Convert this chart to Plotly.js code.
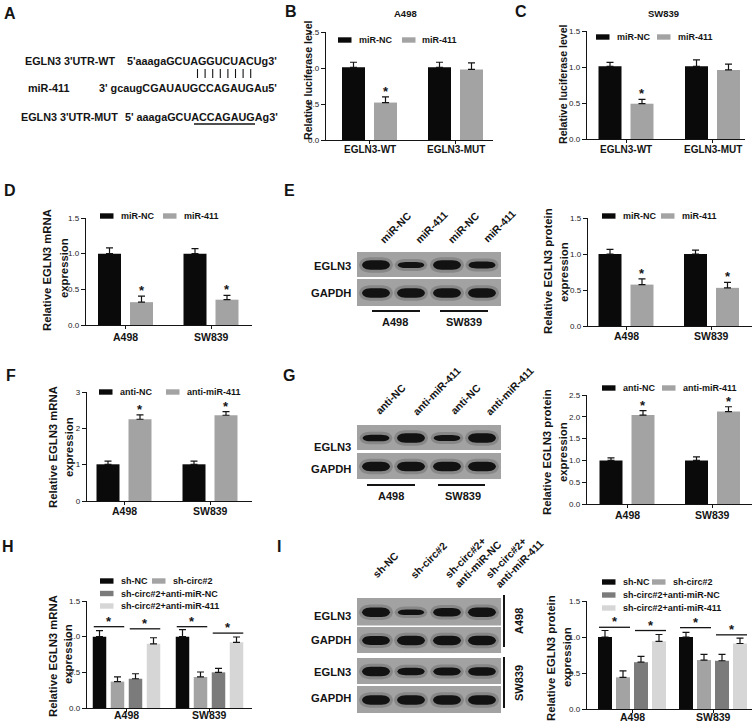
<!DOCTYPE html>
<html>
<head>
<meta charset="utf-8">
<script src="https://cdn.plot.ly/plotly-3.0.1.min.js"></script>
<style>html,body{margin:0;padding:0;background:#fff;}#fig{width:753px;height:724px;}</style>
</head>
<body>
<div id="fig"></div>
<script>
// ======================= DATA =======================
const lucCategories = ['EGLN3-WT', 'EGLN3-MUT'];
const cellLines = ['A498', 'SW839'];
const miRSeries = ['miR-NC', 'miR-411'];
const antiSeries = ['anti-NC', 'anti-miR-411'];
const rescueSeries = ['sh-NC', 'sh-circ#2', 'sh-circ#2+anti-miR-NC', 'sh-circ#2+anti-miR-411'];

// Panel A sequences
const seqLabels = ["EGLN3 3'UTR-WT", 'miR-411', "EGLN3 3'UTR-MUT"];
const seqTexts = ["5'aaagaGCUAGGUCUACUg3'", "3' gcaugCGAUAUGCCAGAUGAu5'", "5' aaagaGCUACCAGAUGAg3'"];
const pairedBases = 8;

// Panel B: luciferase, A498
const lucA498_miRNC = [1.01, 1.01];
const lucA498_miRNC_err = [0.07, 0.07];
const lucA498_miR411 = [0.52, 0.98];
const lucA498_miR411_err = [0.08, 0.09];
// Panel C: luciferase, SW839
const lucSW839_miRNC = [1.01, 1.01];
const lucSW839_miRNC_err = [0.055, 0.09];
const lucSW839_miR411 = [0.49, 0.96];
const lucSW839_miR411_err = [0.06, 0.08];
// Panel D: mRNA after miR-411
const mrna_miRNC = [1.00, 1.00];
const mrna_miRNC_err = [0.08, 0.07];
const mrna_miR411 = [0.32, 0.355];
const mrna_miR411_err = [0.085, 0.06];
// Panel E: protein after miR-411
const prot_miRNC = [1.00, 1.00];
const prot_miRNC_err = [0.065, 0.055];
const prot_miR411 = [0.575, 0.53];
const prot_miR411_err = [0.08, 0.075];
// Panel F: mRNA after anti-miR-411
const mrna_antiNC = [1.01, 1.01];
const mrna_antiNC_err = [0.09, 0.09];
const mrna_anti411 = [2.25, 2.36];
const mrna_anti411_err = [0.12, 0.10];
// Panel G: protein after anti-miR-411
const prot_antiNC = [1.00, 1.00];
const prot_antiNC_err = [0.06, 0.08];
const prot_anti411 = [2.04, 2.12];
const prot_anti411_err = [0.10, 0.11];
// Panel H: mRNA rescue (A498, SW839)
const mrnaR_shNC = [1.00, 1.00];
const mrnaR_shNC_err = [0.085, 0.10];
const mrnaR_shCirc = [0.37, 0.435];
const mrnaR_shCirc_err = [0.065, 0.07];
const mrnaR_antiNC = [0.41, 0.50];
const mrnaR_antiNC_err = [0.07, 0.055];
const mrnaR_anti411 = [0.90, 0.92];
const mrnaR_anti411_err = [0.085, 0.075];
const mrnaR_sigY = [[1.14, 1.11], [1.14, 1.05]];
// Panel I: protein rescue (A498, SW839)
const protR_shNC = [1.00, 1.00];
const protR_shNC_err = [0.09, 0.065];
const protR_shCirc = [0.44, 0.68];
const protR_shCirc_err = [0.09, 0.08];
const protR_antiNC = [0.65, 0.67];
const protR_antiNC_err = [0.08, 0.09];
const protR_anti411 = [0.94, 0.91];
const protR_anti411_err = [0.095, 0.075];
const protR_sigY = [[1.135, 1.09], [1.13, 1.03]];

// Western blot band strengths (relative)
const blotE_lanes = ['miR-NC', 'miR-411', 'miR-NC', 'miR-411'];
const blotE_EGLN3 = [1.0, 0.65, 1.0, 0.75];
const blotE_GAPDH = [1.0, 1.0, 1.0, 1.0];
const blotG_lanes = ['anti-NC', 'anti-miR-411', 'anti-NC', 'anti-miR-411'];
const blotG_EGLN3 = [0.7, 1.0, 0.65, 1.0];
const blotG_GAPDH = [1.0, 1.0, 1.0, 1.0];
const blotI_lanes = ['sh-NC', 'sh-circ#2', 'sh-circ#2+<br>anti-miR-NC', 'sh-circ#2+<br>anti-miR-411'];
const blotI_A498_EGLN3 = [1.0, 0.6, 0.9, 1.0];
const blotI_A498_GAPDH = [0.95, 1.0, 1.0, 1.0];
const blotI_SW839_EGLN3 = [1.0, 0.8, 0.85, 0.9];
const blotI_SW839_GAPDH = [1.0, 1.0, 1.0, 1.0];

// ======================= STYLE / HELPERS =======================
const W = 753, H = 724;
const PX = x => x / W, PY = y => 1 - y / H;
const FONT = '"Liberation Sans", Arial, sans-serif';
const INK = '#141414';
const C_BLACK = '#0a0a0a', C_GRAY = '#a3a3a3', C_DGRAY = '#7b7b7b', C_LIGHT = '#d6d6d6';

const traces = [], shapes = [], annotations = [];
const layout = {
  width: W, height: H, margin: {l: 0, r: 0, t: 0, b: 0, pad: 0},
  paper_bgcolor: '#fff', plot_bgcolor: 'rgba(0,0,0,0)',
  showlegend: false, barmode: 'overlay', font: {family: FONT, color: INK}
};

function text(x, y, t, size, opts) {
  opts = opts || {};
  annotations.push({
    x: PX(x), y: PY(y), xref: 'paper', yref: 'paper', text: t, showarrow: false,
    xanchor: opts.xanchor || 'center', yanchor: opts.yanchor || 'middle',
    textangle: opts.angle || 0, align: opts.align || 'center',
    font: {family: FONT, size: size, color: opts.color || INK, weight: opts.weight || 'bold'}
  });
}
function line(x0, y0, x1, y1, w) {
  shapes.push({type: 'line', xref: 'paper', yref: 'paper', x0: PX(x0), y0: PY(y0), x1: PX(x1), y1: PY(y1),
    line: {color: INK, width: w || 1.5}});
}
function rect(x0, y0, x1, y1, color, opacity) {
  shapes.push({type: 'rect', xref: 'paper', yref: 'paper', x0: PX(x0), y0: PY(y0), x1: PX(x1), y1: PY(y1),
    fillcolor: color, opacity: opacity == null ? 1 : opacity, line: {width: 0}, layer: 'above'});
}

function addBarChart(n, cfg) {
  const sfx = n === 1 ? '' : String(n);
  const xr = 'x' + sfx, yr = 'y' + sfx;
  const g = cfg.geom;
  layout['xaxis' + sfx] = {
    domain: [PX(g.left), PX(g.right)], range: [(g.left - g.c0) / g.sp, (g.right - g.c0) / g.sp],
    anchor: yr, tickvals: cfg.cats.map((c, i) => i), showticklabels: false,
    ticks: 'outside', ticklen: 3, tickwidth: 1, tickcolor: INK,
    showline: true, linecolor: INK, linewidth: 1.3, showgrid: false, zeroline: false, fixedrange: true
  };
  layout['yaxis' + sfx] = {
    domain: [PY(g.bottom), PY(g.top)], range: [0, cfg.ymax], dtick: cfg.dtick, tick0: 0,
    tickformat: cfg.fmt, anchor: xr,
    ticks: 'outside', ticklen: 4, tickwidth: 1, tickcolor: INK,
    showline: true, linecolor: INK, linewidth: 1.3, showgrid: false, zeroline: false, fixedrange: true,
    tickfont: {family: FONT, size: 8, color: '#222'}
  };
  cfg.cats.forEach((c, i) => {
    annotations.push({x: i, y: PY(cfg.catY), xref: xr, yref: 'paper', text: c, showarrow: false,
      xanchor: 'center', yanchor: 'middle',
      font: {family: FONT, size: cfg.catSize, weight: 'bold', color: INK}});
  });
  const ns = cfg.series.length;
  const total = ns * g.barW + (ns - 1) * g.gapW;
  const barLeft = k => -total / 2 + k * (g.barW + g.gapW); // px relative to category centre
  cfg.series.forEach((s, k) => {
    traces.push({
      type: 'bar', x: cfg.cats.map((c, i) => i), y: s.y, xaxis: xr, yaxis: yr,
      offset: barLeft(k) / g.sp, width: g.barW / g.sp, name: s.name,
      marker: {color: s.color, line: {width: 0}},
      error_y: {type: 'data', array: s.err, arrayminus: s.err.map(() => 0), symmetric: false,
        color: INK, thickness: 1.2, width: 3.5},
      hoverinfo: 'skip', cliponaxis: false
    });
    if (s.stars) s.stars.forEach((on, i) => {
      if (!on) return;
      annotations.push({x: i + (barLeft(k) + g.barW / 2) / g.sp, y: s.y[i] + s.err[i], xref: xr, yref: yr,
        text: '*', showarrow: false, xanchor: 'center', yanchor: 'bottom', yshift: -4,
        font: {family: FONT, size: 13, weight: 'bold', color: INK}});
    });
  });
  if (cfg.sig) {
    cfg.sig.y.forEach((pairYs, i) => {
      cfg.sig.pairs.forEach((pr, j) => {
        const x0 = i + (barLeft(pr[0]) + 1) / g.sp;
        const x1 = i + (barLeft(pr[1]) + g.barW) / g.sp;
        shapes.push({type: 'line', xref: xr, yref: yr, x0: x0, x1: x1, y0: pairYs[j], y1: pairYs[j],
          line: {color: INK, width: 1.3}});
        annotations.push({x: (x0 + x1) / 2, y: pairYs[j], xref: xr, yref: yr, text: '*', showarrow: false,
          xanchor: 'center', yanchor: 'bottom', yshift: -4,
          font: {family: FONT, size: 13, weight: 'bold', color: INK}});
      });
    });
  }
  const L = cfg.legend;
  cfg.series.forEach((s, k) => {
    const pos = L.layout[k];
    const x = L.x0 + pos[0] * L.colOff, y = L.y0 + pos[1] * (L.rowStep || 0);
    rect(x, y - 2.7, x + 13.5, y + 2.7, s.color);
    text(x + 18.5, y, s.name, 9, {xanchor: 'left'});
  });
  cfg.ytitle.forEach(t => text(t.x, t.y, t.text, t.size, {angle: -90}));
  if (cfg.title) text(cfg.title.x, cfg.title.y, cfg.title.text, 9.5);
}

function bandPath(xc, yc, w, h) {
  const x0 = xc - w / 2, x1 = xc + w / 2, yt = yc - h / 2, yb = yc + h / 2;
  const P = (x, y) => PX(x).toFixed(5) + ',' + PY(y).toFixed(5);
  return 'M' + P(x0, yc) +
    ' C' + P(x0 + 0.04 * w, yt) + ' ' + P(x0 + 0.22 * w, yt) + ' ' + P(xc, yt) +
    ' C' + P(x1 - 0.22 * w, yt) + ' ' + P(x1 - 0.04 * w, yt) + ' ' + P(x1, yc) +
    ' C' + P(x1 - 0.04 * w, yb) + ' ' + P(x1 - 0.22 * w, yb) + ' ' + P(xc, yb) +
    ' C' + P(x0 + 0.22 * w, yb) + ' ' + P(x0 + 0.04 * w, yb) + ' ' + P(x0, yc) + ' Z';
}

function drawBlotRow(left, right, top, bottom, lanes, strengths) {
  rect(left, top, right, bottom, '#a2a2a2');
  const yc = (top + bottom) / 2 + 0.5;
  lanes.forEach((xc, i) => {
    const t = strengths[i];
    const w = 28 * (0.88 + 0.12 * t), h = 9.5 * t;
    shapes.push({type: 'path', xref: 'paper', yref: 'paper', path: bandPath(xc, yc, w + 6, h + 6),
      fillcolor: '#4a4a4a', opacity: 0.3, line: {width: 0}});
    shapes.push({type: 'path', xref: 'paper', yref: 'paper', path: bandPath(xc, yc, w, h),
      fillcolor: '#121212', line: {width: 0}});
  });
}

// ======================= PANEL LETTERS =======================
[['A', 10, 13], ['B', 291, 12], ['C', 521, 12], ['D', 10, 190], ['E', 289, 190],
 ['F', 11, 375], ['G', 289, 375], ['H', 8, 546], ['I', 279, 546]].forEach(l => text(l[1], l[2], l[0], 16));

// ======================= PANEL A =======================
text(23, 61, seqLabels[0], 10.8, {xanchor: 'left'});
text(125, 61, seqTexts[0], 10.8, {xanchor: 'left'});
text(26, 88, seqLabels[1], 10.8, {xanchor: 'left'});
text(97, 88, seqTexts[1], 10.8, {xanchor: 'left'});
text(19, 117, seqLabels[2], 10.8, {xanchor: 'left'});
text(123, 117, seqTexts[2], 10.8, {xanchor: 'left'});
for (let i = 0; i < pairedBases; i++) line(197.5 + i * 7.6, 69, 197.5 + i * 7.6, 78, 1.1);
line(194, 124, 255, 124, 1.6);

// ======================= PANEL B & C =======================
const geom2 = (left, right, top, bottom, c0, sp) => ({left, right, top, bottom, c0, sp, barW: 23, gapW: 9});
addBarChart(1, {
  geom: geom2(326, 493, 32, 140, 369.5, 86), ymax: 1.5, dtick: 0.5, fmt: '.1f',
  cats: lucCategories, catSize: 10, catY: 150,
  series: [
    {name: miRSeries[0], color: C_BLACK, y: lucA498_miRNC, err: lucA498_miRNC_err},
    {name: miRSeries[1], color: C_GRAY, y: lucA498_miR411, err: lucA498_miR411_err, stars: [true, false]}],
  legend: {x0: 338, y0: 40, colOff: 64, layout: [[0, 0], [1, 0]]},
  ytitle: [{text: 'Relative luciferase level', x: 308, y: 80, size: 10.6}],
  title: {text: 'A498', x: 405, y: 13}
});
addBarChart(2, {
  geom: geom2(587, 745, 31, 139, 626, 86.5), ymax: 1.5, dtick: 0.5, fmt: '.1f',
  cats: lucCategories, catSize: 10, catY: 149.5,
  series: [
    {name: miRSeries[0], color: C_BLACK, y: lucSW839_miRNC, err: lucSW839_miRNC_err},
    {name: miRSeries[1], color: C_GRAY, y: lucSW839_miR411, err: lucSW839_miR411_err, stars: [true, false]}],
  legend: {x0: 596, y0: 37, colOff: 61, layout: [[0, 0], [1, 0]]},
  ytitle: [{text: 'Relative luciferase level', x: 563, y: 84, size: 10.6}],
  title: {text: 'SW839', x: 663, y: 13}
});

// ======================= PANEL D & E =======================
addBarChart(3, {
  geom: geom2(86, 252, 218, 325, 125.5, 85.5), ymax: 1.5, dtick: 0.5, fmt: '.1f',
  cats: cellLines, catSize: 10.5, catY: 337.5,
  series: [
    {name: miRSeries[0], color: C_BLACK, y: mrna_miRNC, err: mrna_miRNC_err},
    {name: miRSeries[1], color: C_GRAY, y: mrna_miR411, err: mrna_miR411_err, stars: [true, true]}],
  legend: {x0: 100, y0: 216, colOff: 63, layout: [[0, 0], [1, 0]]},
  ytitle: [{text: 'Relative EGLN3 mRNA', x: 47, y: 270, size: 11.3}, {text: 'expression', x: 64, y: 268, size: 11.3}]
});
addBarChart(4, {
  geom: geom2(588, 752, 218, 326, 626, 85.5), ymax: 1.5, dtick: 0.5, fmt: '.1f',
  cats: cellLines, catSize: 10.5, catY: 335.5,
  series: [
    {name: miRSeries[0], color: C_BLACK, y: prot_miRNC, err: prot_miRNC_err},
    {name: miRSeries[1], color: C_GRAY, y: prot_miR411, err: prot_miR411_err, stars: [true, true]}],
  legend: {x0: 602, y0: 216, colOff: 59, layout: [[0, 0], [1, 0]]},
  ytitle: [{text: 'Relative EGLN3 protein', x: 548, y: 271, size: 11.3}, {text: 'expression', x: 564, y: 272, size: 11.3}]
});

// ======================= PANEL F & G =======================
addBarChart(5, {
  geom: geom2(87, 252, 392, 501, 124, 86), ymax: 3, dtick: 1, fmt: 'd',
  cats: cellLines, catSize: 10.5, catY: 510.5,
  series: [
    {name: antiSeries[0], color: C_BLACK, y: mrna_antiNC, err: mrna_antiNC_err},
    {name: antiSeries[1], color: C_GRAY, y: mrna_anti411, err: mrna_anti411_err, stars: [true, true]}],
  legend: {x0: 99, y0: 392, colOff: 67, layout: [[0, 0], [1, 0]]},
  ytitle: [{text: 'Relative EGLN3 mRNA', x: 53, y: 447, size: 11.3}, {text: 'expression', x: 69, y: 447, size: 11.3}]
});
addBarChart(6, {
  geom: geom2(587, 752, 395, 504, 627, 85.5), ymax: 2.5, dtick: 0.5, fmt: '.1f',
  cats: cellLines, catSize: 10.5, catY: 514.5,
  series: [
    {name: antiSeries[0], color: C_BLACK, y: prot_antiNC, err: prot_antiNC_err},
    {name: antiSeries[1], color: C_GRAY, y: prot_anti411, err: prot_anti411_err, stars: [true, true]}],
  legend: {x0: 602, y0: 388, colOff: 60, layout: [[0, 0], [1, 0]]},
  ytitle: [{text: 'Relative EGLN3 protein', x: 547, y: 452, size: 11.3}, {text: 'expression', x: 563, y: 452, size: 11.3}]
});

// ======================= PANEL H & I =======================
const leg4 = [[0, 0], [1, 0], [0, 1], [0, 2]];
addBarChart(7, {
  geom: {left: 87, right: 252, top: 601, bottom: 708, c0: 126.5, sp: 83, barW: 13.5, gapW: 4.5},
  ymax: 1.5, dtick: 0.5, fmt: '.1f', cats: cellLines, catSize: 10.5, catY: 715,
  series: [
    {name: rescueSeries[0], color: C_BLACK, y: mrnaR_shNC, err: mrnaR_shNC_err},
    {name: rescueSeries[1], color: C_GRAY, y: mrnaR_shCirc, err: mrnaR_shCirc_err},
    {name: rescueSeries[2], color: C_DGRAY, y: mrnaR_antiNC, err: mrnaR_antiNC_err},
    {name: rescueSeries[3], color: C_LIGHT, y: mrnaR_anti411, err: mrnaR_anti411_err}],
  sig: {y: mrnaR_sigY, pairs: [[0, 1], [2, 3]]},
  legend: {x0: 100, y0: 581, colOff: 52, rowStep: 12.5, layout: leg4},
  ytitle: [{text: 'Relative EGLN3 mRNA', x: 53, y: 656, size: 11.3}, {text: 'expression', x: 68, y: 654, size: 11.3}]
});
addBarChart(8, {
  geom: {left: 587, right: 752, top: 601, bottom: 709, c0: 632, sp: 81, barW: 14, gapW: 4},
  ymax: 1.5, dtick: 0.5, fmt: '.1f', cats: cellLines, catSize: 10.5, catY: 716.5,
  series: [
    {name: rescueSeries[0], color: C_BLACK, y: protR_shNC, err: protR_shNC_err},
    {name: rescueSeries[1], color: C_GRAY, y: protR_shCirc, err: protR_shCirc_err},
    {name: rescueSeries[2], color: C_DGRAY, y: protR_antiNC, err: protR_antiNC_err},
    {name: rescueSeries[3], color: C_LIGHT, y: protR_anti411, err: protR_anti411_err}],
  sig: {y: protR_sigY, pairs: [[0, 1], [2, 3]]},
  legend: {x0: 602, y0: 582, colOff: 50, rowStep: 13, layout: leg4},
  ytitle: [{text: 'Relative EGLN3 protein', x: 551, y: 658, size: 11.3}, {text: 'expression', x: 567, y: 657, size: 11.3}]
});

// ======================= BLOTS =======================
const laneX = [376, 411, 447, 482];
const blotL = 357, blotR = 501;
// E
drawBlotRow(blotL, blotR, 252, 277, laneX, blotE_EGLN3);
drawBlotRow(blotL, blotR, 279, 306, laneX, blotE_GAPDH);
text(353, 266, 'EGLN3', 11.2, {xanchor: 'right'});
text(353, 293, 'GAPDH', 11.2, {xanchor: 'right'});
[[375, 248], [410, 248], [443, 248], [478, 247]].forEach((p, i) =>
  text(p[0], p[1], blotE_lanes[i], 10.5, {angle: -45, xanchor: 'left', yanchor: 'bottom'}));
line(372, 311, 420, 311, 2); line(440, 311, 488, 311, 2);
text(395, 322, cellLines[0], 11); text(464, 322, cellLines[1], 11);
// G
drawBlotRow(blotL, blotR, 425, 450, laneX, blotG_EGLN3);
drawBlotRow(blotL, blotR, 453, 479, laneX, blotG_GAPDH);
text(353, 447, 'EGLN3', 11.2, {xanchor: 'right'});
text(353, 469, 'GAPDH', 11.2, {xanchor: 'right'});
[[370, 420], [407, 420], [445, 420], [480, 420]].forEach((p, i) =>
  text(p[0], p[1], blotG_lanes[i], 10.5, {angle: -45, xanchor: 'left', yanchor: 'bottom'}));
line(367, 485, 415, 485, 2); line(438, 485, 485, 485, 2);
text(391, 496, cellLines[0], 11); text(463, 496, cellLines[1], 11);
// I
drawBlotRow(blotL, blotR, 598, 625.5, laneX, blotI_A498_EGLN3);
drawBlotRow(blotL, blotR, 627, 653, laneX, blotI_A498_GAPDH);
drawBlotRow(blotL, blotR, 658, 684, laneX, blotI_SW839_EGLN3);
drawBlotRow(blotL, blotR, 686, 713, laneX, blotI_SW839_GAPDH);
text(353, 616, 'EGLN3', 11.2, {xanchor: 'right'});
text(353, 640, 'GAPDH', 11.2, {xanchor: 'right'});
text(353, 671.5, 'EGLN3', 11.2, {xanchor: 'right'});
text(353, 698, 'GAPDH', 11.2, {xanchor: 'right'});
[[367, 583], [405, 583], [440, 593], [480, 593]].forEach((p, i) =>
  text(p[0], p[1], blotI_lanes[i], 10.5, {angle: -45, xanchor: 'left', yanchor: 'bottom', align: 'left'}));
line(504, 595, 504, 647, 2); line(504, 657, 504, 708, 2);
text(519, 621, cellLines[0], 11, {angle: -90}); text(519, 683, cellLines[1], 11, {angle: -90});

layout.shapes = shapes;
layout.annotations = annotations;
Plotly.newPlot('fig', traces, layout, {staticPlot: true, displayModeBar: false});
</script>
</body>
</html>
